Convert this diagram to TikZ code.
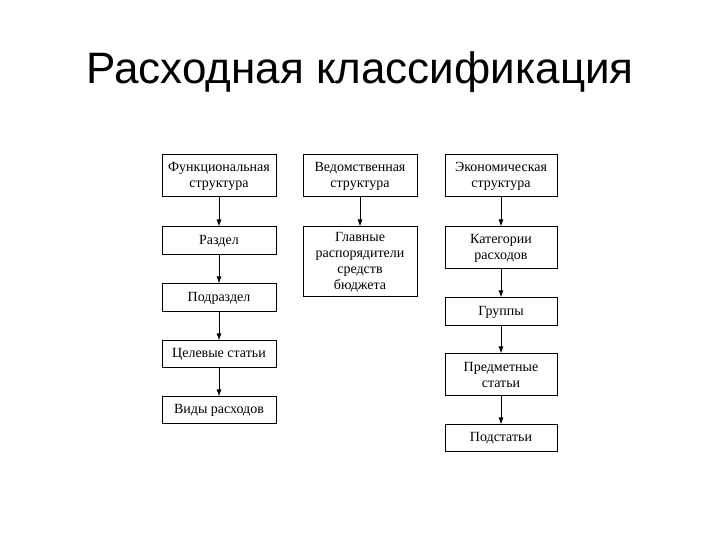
\documentclass[tikz,border=0pt]{standalone}
\usepackage{fontspec}
\setmainfont{Liberation Serif}
\newfontfamily\titlefont{Liberation Sans}
\usetikzlibrary{arrows.meta}

\tikzset{
  box/.style={draw,line width=1pt,align=center,inner sep=1pt,
    font=\fontsize{14}{16}\selectfont},
  link/.style={-{Latex[length=7pt,width=5pt]},line width=0.9pt}
}

\begin{document}
\begin{tikzpicture}[x=1pt,y=1pt]
  \useasboundingbox (0,0) rectangle (720,540);
  % title
  \node[font=\titlefont\fontsize{44}{44}\selectfont,anchor=base] (title) at (360,456) {Расходная классификация};
  % functional structure
  \node[box,minimum width=114,minimum height=42] (func) at (219,364) {Функциональная\\структура};
  \node[box,minimum width=114,minimum height=28] (razd) at (219,299) {Раздел};
  \node[box,minimum width=114,minimum height=28] (podr) at (219,242) {Подраздел};
  \node[box,minimum width=114,minimum height=27] (cel) at (219,185.5) {Целевые статьи};
  \node[box,minimum width=114,minimum height=27] (vid) at (219,129.5) {Виды расходов};
  % departmental structure
  \node[box,minimum width=114,minimum height=42] (ved) at (360,364) {Ведомственная\\структура};
  \node[box,minimum width=114,minimum height=70] (glav) at (360,278) {Главные\\распорядители\\средств\\бюджета};
  % economic structure
  \node[box,minimum width=112,minimum height=42] (ekon) at (501,364) {Экономическая\\структура};
  \node[box,minimum width=112,minimum height=42] (kat) at (501,292) {Категории\\расходов};
  \node[box,minimum width=112,minimum height=28] (grup) at (501,228) {Группы};
  \node[box,minimum width=112,minimum height=42] (pred) at (501,165) {Предметные\\статьи};
  \node[box,minimum width=112,minimum height=27] (pods) at (501,101.5) {Подстатьи};
  % arrows
  \draw[link] (func) -- (razd);
  \draw[link] (razd) -- (podr);
  \draw[link] (podr) -- (cel);
  \draw[link] (cel) -- (vid);
  \draw[link] (ved) -- (glav);
  \draw[link] (ekon) -- (kat);
  \draw[link] (kat) -- (grup);
  \draw[link] (grup) -- (pred);
  \draw[link] (pred) -- (pods);
\end{tikzpicture}
\end{document}
